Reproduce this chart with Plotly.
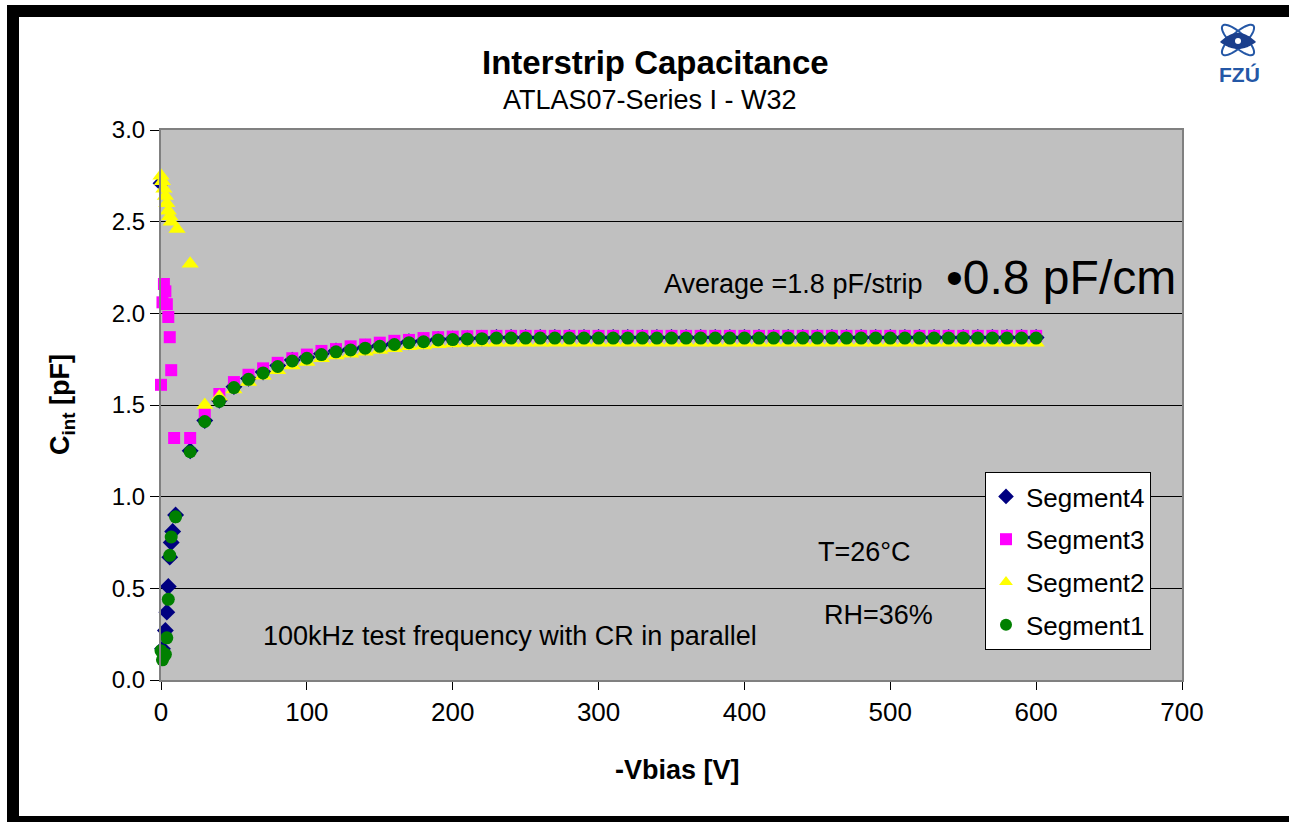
import numpy as np
import plotly.graph_objects as go

# ---------------- data ----------------
v_low_seg4 = [0, 1, 3, 4, 5, 6, 7, 8, 10]
c_low_seg4 = [2.71, 0.17, 0.27, 0.37, 0.51, 0.67, 0.75, 0.81, 0.90]

v_low_seg3 = [0, 1, 2, 3, 4, 5, 6, 7, 9]
c_low_seg3 = [1.61, 2.06, 2.16, 2.12, 2.05, 1.98, 1.87, 1.69, 1.32]

v_low_seg2 = [0, 1, 2, 3, 4, 5, 6, 7, 11]
c_low_seg2 = [2.75, 2.72, 2.68, 2.64, 2.60, 2.56, 2.53, 2.50, 2.46]

v_low_seg1 = [0, 1, 2, 3, 4, 5, 6, 7, 10]
c_low_seg1 = [0.16, 0.11, 0.13, 0.14, 0.23, 0.44, 0.68, 0.78, 0.89]

v_high = [20, 30, 40, 50, 60, 70, 80, 90, 100, 110, 120, 130, 140, 150, 160,
          170, 180, 190, 200, 210, 220, 230, 240, 250, 260, 270, 280, 290, 300,
          310, 320, 330, 340, 350, 360, 370, 380, 390, 400, 410, 420, 430, 440,
          450, 460, 470, 480, 490, 500, 510, 520, 530, 540, 550, 560, 570, 580,
          590, 600]

c_high_seg4 = [1.25, 1.415, 1.525, 1.60, 1.645, 1.68, 1.715, 1.745, 1.76, 1.78,
               1.795, 1.805, 1.815, 1.825, 1.835, 1.845, 1.85, 1.858, 1.86, 1.862,
               1.865, 1.868, 1.868, 1.868, 1.868, 1.868, 1.868, 1.868, 1.868,
               1.868, 1.868, 1.868, 1.868, 1.868, 1.868, 1.868, 1.868, 1.868,
               1.868, 1.868, 1.868, 1.868, 1.868, 1.868, 1.868, 1.868, 1.868,
               1.868, 1.868, 1.868, 1.868, 1.868, 1.868, 1.868, 1.868, 1.868,
               1.868, 1.868, 1.868]

c_high_seg3 = [1.32, 1.46, 1.56, 1.625, 1.665, 1.70, 1.73, 1.755, 1.775, 1.795,
               1.805, 1.82, 1.83, 1.84, 1.85, 1.855, 1.865, 1.87, 1.873, 1.875,
               1.877, 1.877, 1.877, 1.877, 1.877, 1.877, 1.877, 1.877, 1.877,
               1.877, 1.877, 1.877, 1.877, 1.877, 1.877, 1.877, 1.877, 1.877,
               1.877, 1.877, 1.877, 1.877, 1.877, 1.877, 1.877, 1.877, 1.877,
               1.877, 1.877, 1.877, 1.877, 1.877, 1.877, 1.877, 1.877, 1.877,
               1.877, 1.877, 1.877]

c_high_seg2 = [2.27, 1.50, 1.545, 1.585, 1.625, 1.66, 1.69, 1.715, 1.735, 1.755,
               1.77, 1.78, 1.79, 1.80, 1.81, 1.82, 1.825, 1.832, 1.835, 1.838,
               1.84, 1.84, 1.84, 1.84, 1.84, 1.84, 1.84, 1.84, 1.84, 1.84, 1.84,
               1.84, 1.84, 1.84, 1.84, 1.84, 1.84, 1.84, 1.84, 1.84, 1.84, 1.84,
               1.84, 1.84, 1.84, 1.84, 1.84, 1.84, 1.84, 1.84, 1.84, 1.84, 1.84,
               1.84, 1.84, 1.84, 1.84, 1.84, 1.84]

c_high_seg1 = [1.245, 1.41, 1.52, 1.595, 1.64, 1.675, 1.71, 1.74, 1.755, 1.775,
               1.79, 1.80, 1.81, 1.82, 1.83, 1.84, 1.845, 1.855, 1.857, 1.86,
               1.862, 1.865, 1.865, 1.865, 1.865, 1.865, 1.865, 1.865, 1.865,
               1.865, 1.865, 1.865, 1.865, 1.865, 1.865, 1.865, 1.865, 1.865,
               1.865, 1.865, 1.865, 1.865, 1.865, 1.865, 1.865, 1.865, 1.865,
               1.865, 1.865, 1.865, 1.865, 1.865, 1.865, 1.865, 1.865, 1.865,
               1.865, 1.865, 1.865]

series_names = ["Segment4", "Segment3", "Segment2", "Segment1"]
x_ticks = [0, 100, 200, 300, 400, 500, 600, 700]
y_ticks = [0.0, 0.5, 1.0, 1.5, 2.0, 2.5, 3.0]

# ---------------- layout helpers (pixel -> paper) ----------------
W, H = 1289, 822
L, R, T, B = 161, 1182, 130, 680


def px(x):
    return (x - L) / (R - L)


def py(y):
    return (B - y) / (B - T)


FONT = "Liberation Sans, Arial, sans-serif"

fig = go.Figure()

styles = [
    dict(color="#000080", symbol="diamond", size=13),
    dict(color="#FF00FF", symbol="square", size=12),
    dict(color="#FFFF00", symbol="triangle-up", size=15),
    dict(color="#008000", symbol="circle", size=13),
]
xs = [v_low_seg4 + v_high, v_low_seg3 + v_high, v_low_seg2 + v_high, v_low_seg1 + v_high]
ys = [c_low_seg4 + c_high_seg4, c_low_seg3 + c_high_seg3,
      c_low_seg2 + c_high_seg2, c_low_seg1 + c_high_seg1]

for name, st, x, y in zip(series_names, styles, xs, ys):
    fig.add_trace(go.Scatter(
        x=x, y=y, mode="markers", name=name, legendgroup=name, cliponaxis=False,
        marker=dict(color=st["color"], symbol=st["symbol"], size=st["size"],
                    line=dict(width=0)),
    ))

shapes = []
# black frame
for (x0, y0, x1, y1) in [(7, 5, W, 17), (7, 5, 19, 816), (7, 816, W, H)]:
    shapes.append(dict(type="rect", xref="paper", yref="paper",
                       x0=px(x0), x1=px(x1), y0=py(y0), y1=py(y1),
                       fillcolor="black", line=dict(width=0), layer="above"))

# FZU logo: orbits, eye
logo_blue = "#2457a6"
cx, cy = 1238, 40


def ellipse_path(a, b, ang):
    t = np.linspace(0, 2 * np.pi, 60)
    xx = a * np.cos(t)
    yy = b * np.sin(t)
    ca, sa = np.cos(ang), np.sin(ang)
    X = cx + xx * ca - yy * sa
    Y = cy + xx * sa + yy * ca
    pts = [f"{px(X[i]):.5f},{py(Y[i]):.5f}" for i in range(len(t))]
    return "M" + " L".join(pts) + " Z"


for ang in (0.75, -0.75):
    shapes.append(dict(type="path", xref="paper", yref="paper",
                       path=ellipse_path(21, 7, ang),
                       line=dict(color=logo_blue, width=2)))
# eye
ex = np.linspace(-18, 18, 30)
top = [f"{px(cx + e):.5f},{py(cy + 2 - 9 * (1 - (e / 18) ** 2)):.5f}" for e in ex]
bot = [f"{px(cx + e):.5f},{py(cy + 2 + 7 * (1 - (e / 18) ** 2)):.5f}" for e in ex[::-1]]
shapes.append(dict(type="path", xref="paper", yref="paper",
                   path="M" + " L".join(top + bot) + " Z",
                   fillcolor="#1b3f8c", line=dict(width=0)))
shapes.append(dict(type="circle", xref="paper", yref="paper",
                   x0=px(cx - 3), x1=px(cx + 3), y0=py(cy - 2), y1=py(cy + 4),
                   fillcolor="white", line=dict(width=0)))

annotations = [
    dict(text="<b>Interstrip Capacitance</b>", x=px(655), y=py(62),
         font=dict(size=33, family=FONT, color="black")),
    dict(text="ATLAS07-Series I - W32", x=px(650), y=py(100),
         font=dict(size=27, family=FONT, color="black")),
    dict(text="<b>-Vbias [V]</b>", x=px(677), y=py(770),
         font=dict(size=27, family=FONT, color="black")),
    dict(text="<b>C<sub>int</sub> [pF]</b>", x=px(62), y=py(405), textangle=-90,
         font=dict(size=27, family=FONT, color="black")),
    dict(text="Average =1.8 pF/strip", x=px(793), y=py(284),
         font=dict(size=27, family=FONT, color="black")),
    dict(text="•0.8 pF/cm", x=px(1061), y=py(277),
         font=dict(size=48, family=FONT, color="black")),
    dict(text="T=26°C", x=px(864), y=py(552),
         font=dict(size=27, family=FONT, color="black")),
    dict(text="RH=36%", x=px(878), y=py(615),
         font=dict(size=27, family=FONT, color="black")),
    dict(text="100kHz test frequency with CR in parallel", x=px(510), y=py(636),
         font=dict(size=27, family=FONT, color="black")),
    dict(text="<b>FZÚ</b>", x=px(1239), y=py(75),
         font=dict(size=21, family=FONT, color=logo_blue)),
]
for a in annotations:
    a.update(xref="paper", yref="paper", showarrow=False,
             xanchor="center", yanchor="middle")

fig.update_layout(
    width=W, height=H,
    margin=dict(l=L, r=W - R, t=T, b=H - B, autoexpand=False),
    paper_bgcolor="white", plot_bgcolor="#C0C0C0",
    font=dict(family=FONT, size=26, color="black"),
    showlegend=True,
    legend=dict(x=px(985), y=py(472), xanchor="left", yanchor="top",
                bgcolor="white", bordercolor="black", borderwidth=1,
                traceorder="grouped", tracegroupgap=6,
                font=dict(size=26, family=FONT, color="black"),
                itemsizing="constant", itemwidth=30),
    shapes=shapes,
    annotations=annotations,
)
fig.update_xaxes(range=[0, 700], tickvals=x_ticks, ticktext=[str(v) for v in x_ticks],
                 showgrid=False, zeroline=False, showline=True, linecolor="#808080",
                 linewidth=2, mirror=True, ticks="outside", ticklen=8, tickcolor="black",
                 tickfont=dict(size=26, family=FONT), automargin=False)
fig.update_yaxes(range=[0, 3], tickvals=y_ticks, ticktext=[f"{v:.1f}" for v in y_ticks],
                 showgrid=True, gridcolor="black", gridwidth=1, zeroline=False,
                 showline=True, linecolor="#808080", linewidth=2, mirror=True,
                 ticks="outside", ticklen=9, tickcolor="black",
                 tickfont=dict(size=24, family=FONT), automargin=False)

fig.write_html("out.html")
